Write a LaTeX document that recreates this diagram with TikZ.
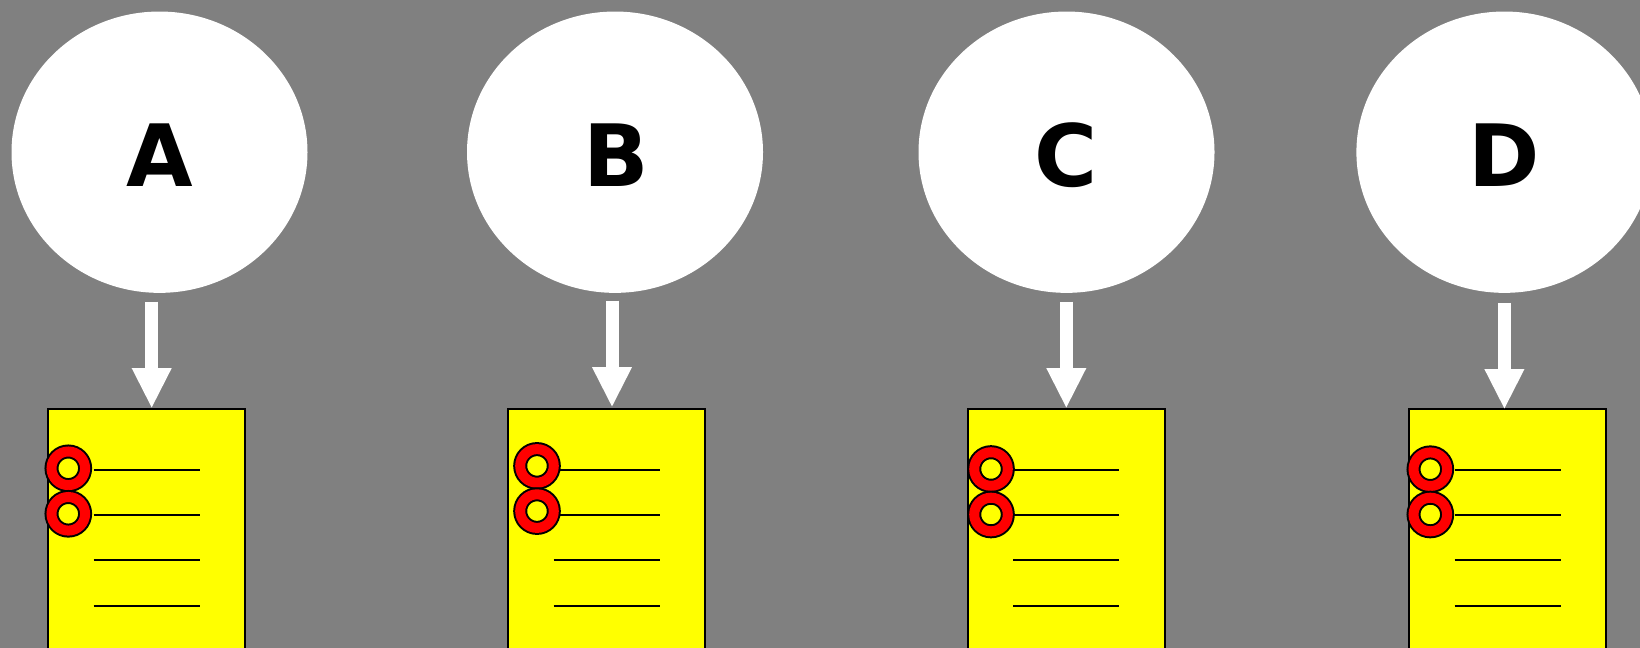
\documentclass[tikz,border=0pt]{standalone}
\usepackage{fontspec}
\setmainfont{DejaVu Sans}
\usetikzlibrary{shapes.geometric, positioning, arrows.meta}
\definecolor{backdrop}{RGB}{128,128,128}
\definecolor{sheetyellow}{RGB}{255,255,0}
\definecolor{ringred}{RGB}{255,0,0}

\begin{document}
\begin{tikzpicture}[x=0.75pt,y=-0.75pt]
    \tikzstyle{bubble} = [ellipse,minimum width=222pt,minimum height=211pt,inner sep=0pt,outer sep=0pt,fill=white,text height=51pt,text depth=0pt,font=\fontsize{64.5}{70}\selectfont\bfseries]
    \tikzstyle{sheet} = [rectangle,minimum width=147.5pt,minimum height=240pt,anchor=north west,outer sep=0pt,draw=black,line width=1.5pt,fill=sheetyellow]
    \tikzstyle{ring} = [circle,minimum size=25.2pt,inner sep=0pt,outer sep=0pt,draw=black,line width=1.5pt,fill=sheetyellow,double=ringred,double distance=7.5pt]
    \tikzstyle{flow} = [white,line width=9.75pt,-{Triangle[length=30.2pt,width=27.5pt]}]
    \tikzstyle{rule} = [black,line width=1.5pt]

    \clip (0,-0.5) rectangle (1640,647.5);
    \fill [backdrop] (0,-0.5) rectangle (1640,647.5);

    \node (bubbleA) [bubble] at (159.5,151.7) {\kern0.5pt A};
    \node (sheetA) [sheet] at (48.2,408.7) {};
    \coordinate (fromA) at (151.7,301);
    \coordinate (tipA) at (151.7,408);
    \draw [flow] (fromA) -- (tipA);
    \draw [rule] (sheetA.north west) ++(45.5,60.3) -- ++(106,0);
    \draw [rule] (sheetA.north west) ++(45.5,105.8) -- ++(106,0);
    \draw [rule] (sheetA.north west) ++(45.5,151) -- ++(106,0);
    \draw [rule] (sheetA.north west) ++(45.5,196.3) -- ++(106,0);
    \node (ringA1) [ring] at (68.3,467.8) {};
    \node (ringA2) [ring] at (68.3,513.3) {};

    \node (bubbleB) [bubble] at (615,151.7) {\kern2pt B};
    \node (sheetB) [sheet] at (508,408.7) {};
    \coordinate (fromB) at (612,300);
    \coordinate (tipB) at (612,407);
    \draw [flow] (fromB) -- (tipB);
    \draw [rule] (sheetB.north west) ++(45.5,60.3) -- ++(106,0);
    \draw [rule] (sheetB.north west) ++(45.5,105.8) -- ++(106,0);
    \draw [rule] (sheetB.north west) ++(45.5,151) -- ++(106,0);
    \draw [rule] (sheetB.north west) ++(45.5,196.3) -- ++(106,0);
    \node (ringB1) [ring] at (537,465.4) {};
    \node (ringB2) [ring] at (537,510.6) {};

    \node (bubbleC) [bubble] at (1066.5,151.7) {C};
    \node (sheetC) [sheet] at (968,408.7) {};
    \coordinate (fromC) at (1066.3,301);
    \coordinate (tipC) at (1066.3,408);
    \draw [flow] (fromC) -- (tipC);
    \draw [rule] (sheetC.north west) ++(45,60.3) -- ++(106,0);
    \draw [rule] (sheetC.north west) ++(45,105.8) -- ++(106,0);
    \draw [rule] (sheetC.north west) ++(45,151) -- ++(106,0);
    \draw [rule] (sheetC.north west) ++(45,196.3) -- ++(106,0);
    \node (ringC1) [ring] at (991,468.5) {};
    \node (ringC2) [ring] at (991,514) {};

    \node (bubbleD) [bubble] at (1504.4,151.7) {D};
    \node (sheetD) [sheet] at (1409,408.7) {};
    \coordinate (fromD) at (1504.4,302.3);
    \coordinate (tipD) at (1504.4,409);
    \draw [flow] (fromD) -- (tipD);
    \draw [rule] (sheetD.north west) ++(45.5,60.3) -- ++(106,0);
    \draw [rule] (sheetD.north west) ++(45.5,105.6) -- ++(106,0);
    \draw [rule] (sheetD.north west) ++(45.5,150.8) -- ++(106,0);
    \draw [rule] (sheetD.north west) ++(45.5,196.5) -- ++(106,0);
    \node (ringD1) [ring] at (1430.3,468.7) {};
    \node (ringD2) [ring] at (1430.3,514) {};

\end{tikzpicture}
\end{document}
